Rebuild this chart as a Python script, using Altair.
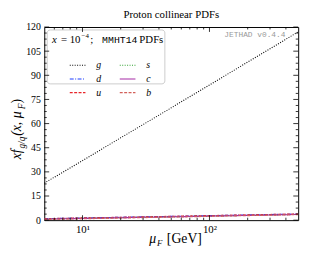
import altair as alt
import pandas as pd

# ---- data ----
mu = [5, 7, 10, 20, 30, 50, 70, 100, 200, 300, 500]
g_vals = [23.0, 29.8, 37.0, 51.2, 59.4, 69.8, 76.7, 84.0, 98.2, 106.5, 117.0]
s_vals = [0.75, 0.95, 1.15, 1.55, 1.80, 2.10, 2.30, 2.50, 2.95, 3.20, 3.55]
d_vals = [0.95, 1.15, 1.35, 1.80, 2.05, 2.35, 2.55, 2.80, 3.25, 3.50, 3.85]
c_vals = [0.60, 0.85, 1.05, 1.50, 1.75, 2.05, 2.25, 2.50, 2.95, 3.20, 3.55]
u_vals = [0.95, 1.15, 1.40, 1.80, 2.05, 2.40, 2.60, 2.85, 3.30, 3.55, 3.90]
b_vals = [0.30, 0.60, 0.85, 1.30, 1.55, 1.90, 2.10, 2.35, 2.80, 3.05, 3.45]

# legend is filled column by column: g, d, u | s, c, b
series_order = ["g", "d", "u", "s", "c", "b"]
series_vals = {"g": g_vals, "s": s_vals, "d": d_vals, "c": c_vals, "u": u_vals, "b": b_vals}
series_colors = ["#000000", "#1f3fff", "#e8262a", "#2ca02c", "#a52aa5", "#d2605a"]
series_dash = [[1, 1.5], [4, 1.5, 1, 1.5], [3, 1.5], [1, 1.5], [1, 0], [3, 1.5]]

x_major = [10, 100]
x_minor = [6, 7, 8, 9, 20, 30, 40, 50, 60, 70, 80, 90, 200, 300, 400]
y_major = [0, 15, 30, 45, 60, 75, 90, 105, 120]
y_minor = [3.75 * i for i in range(33) if i % 4 != 0]

W, H = 259, 197
SERIF = "Liberation Serif"

rows = []
for k in series_order:
    for m, v in zip(mu, series_vals[k]):
        rows.append({"mu": m, "val": v, "pdf": k})
df = pd.DataFrame(rows)

xscale = alt.Scale(type="log", domain=[5, 500], nice=False)
yscale = alt.Scale(domain=[0, 120], nice=False, zero=False)
xaxis = alt.Axis(values=x_major, labelExpr="datum.value == 10 ? '10¹' : '10²'",
                 ticks=False, domain=False, grid=False, title=None,
                 labelFont=SERIF, labelFontSize=11, labelColor="black", labelPadding=4)
yaxis = alt.Axis(values=y_major, ticks=False, domain=False, grid=False, title=None,
                 labelFont=SERIF, labelFontSize=10, labelColor="black", labelPadding=4)

lines = alt.Chart(df).mark_line(strokeWidth=1.1, clip=True).encode(
    x=alt.X("mu:Q", scale=xscale, axis=xaxis),
    y=alt.Y("val:Q", scale=yscale, axis=yaxis),
    color=alt.Color("pdf:N", scale=alt.Scale(domain=series_order, range=series_colors),
                    sort=series_order,
                    legend=alt.Legend(title=None, orient="none", legendX=25, legendY=30,
                                      columns=2, symbolType="stroke", symbolSize=256,
                                      symbolStrokeWidth=1.2, labelFont=SERIF,
                                      labelFontStyle="italic", labelFontSize=10,
                                      labelOffset=10, columnPadding=16, rowPadding=0,
                                      padding=0)),
    strokeDash=alt.StrokeDash("pdf:N", scale=alt.Scale(domain=series_order, range=series_dash),
                              sort=series_order, legend=None),
)

def xticks(vals, length):
    d = pd.DataFrame({"v": vals})
    bot = alt.Chart(d).mark_rule(color="black", strokeWidth=0.8).encode(
        x=alt.X("v:Q", scale=xscale, axis=xaxis), y=alt.value(H), y2=alt.value(H - length))
    top = alt.Chart(d).mark_rule(color="black", strokeWidth=0.8).encode(
        x=alt.X("v:Q", scale=xscale, axis=xaxis), y=alt.value(0), y2=alt.value(length))
    return [bot, top]

def yticks(vals, length):
    d = pd.DataFrame({"v": vals})
    left = alt.Chart(d).mark_rule(color="black", strokeWidth=0.8).encode(
        y=alt.Y("v:Q", scale=yscale, axis=yaxis), x=alt.value(0), x2=alt.value(length))
    right = alt.Chart(d).mark_rule(color="black", strokeWidth=0.8).encode(
        y=alt.Y("v:Q", scale=yscale, axis=yaxis), x=alt.value(W), x2=alt.value(W - length))
    return [left, right]

one = pd.DataFrame({"a": [0]})

def txt(text, x, y, size, font=SERIF, style="normal", align="left", angle=0,
        color="black", baseline="alphabetic", weight="normal"):
    return alt.Chart(one).mark_text(text=text, font=font, fontSize=size, fontStyle=style,
                                    align=align, angle=angle, color=color,
                                    baseline=baseline, fontWeight=weight).encode(
        x=alt.value(x), y=alt.value(y))

legend_box = alt.Chart(one).mark_rect(fill="white", fillOpacity=0.0, stroke="#cccccc",
                                      strokeWidth=1, cornerRadius=3).encode(
    x=alt.value(3), x2=alt.value(123), y=alt.value(3), y2=alt.value(58))

texts = [
    # chart title
    txt("Proton collinear PDFs", W / 2, -9, 11, align="center"),
    # legend title
    txt("x", 8, 16, 11, style="italic"),
    txt("= 10", 17, 16, 11),
    txt("−4", 38, 11, 7),
    txt(";", 47, 16, 11),
    txt("MMHT14", 59, 16, 10, font="Liberation Mono"),
    txt("PDFs", 97, 16, 11),
    # watermark
    txt("JETHAD v0.4.4", W - 13, 8, 8, font="Liberation Mono", align="right",
        color="#999999", baseline="middle"),
    # x label
    txt("μ", 107, H + 23.5, 14, style="italic"),
    txt("F", 115, H + 26, 9, style="italic"),
    txt("[GeV]", 125, H + 23.5, 14),
    # y label (rotated)
    txt("xf", -24, 135, 14, style="italic", angle=270),
    txt("g/q", -20, 124, 9.5, style="italic", angle=270),
    txt("(x, μ", -24, 111, 14, style="italic", angle=270),
    txt("F", -20, 84, 9.5, style="italic", angle=270),
    txt(")", -24, 78, 14, angle=270),
]

layers = [legend_box, lines] + xticks(x_major, 5) + xticks(x_minor, 2.5) + \
         yticks(y_major, 5) + yticks(y_minor, 2.5) + texts

chart = alt.layer(*layers).properties(
    width=W, height=H,
    autosize=alt.AutoSizeParams(type="none"),
    padding={"left": 37, "top": 17, "right": 10, "bottom": 26},
).configure_view(stroke="black", strokeWidth=1)

chart.save("out.html", embed_options={"renderer": "svg", "actions": False})
